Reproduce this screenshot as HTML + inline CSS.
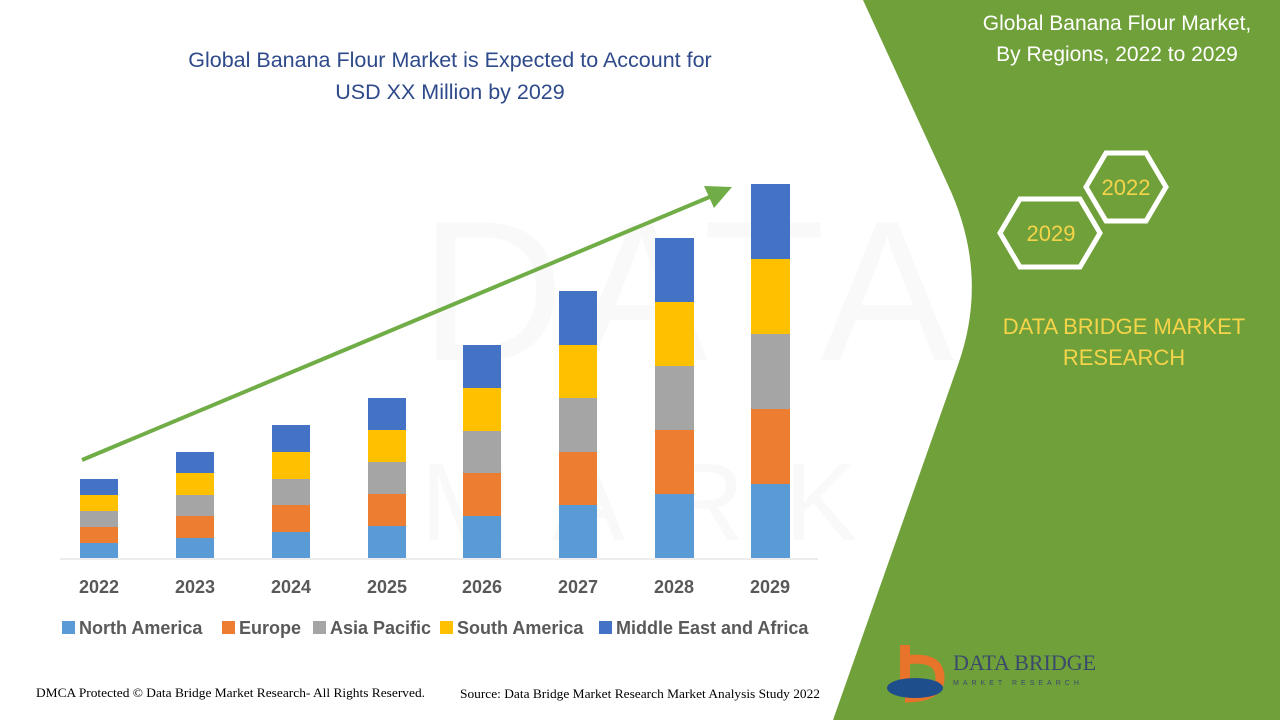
<!DOCTYPE html>
<html><head><meta charset="utf-8"><style>
html,body{margin:0;padding:0;background:#fff;}
svg{display:block;}
</style></head><body>
<svg width="1280" height="720" viewBox="0 0 1280 720" xmlns="http://www.w3.org/2000/svg" font-family="Liberation Sans, sans-serif">
<rect width="1280" height="720" fill="#fff"/>
<g opacity="0.04" fill="#888">
<text x="420" y="360" font-size="200" letter-spacing="10">DATA</text>
<text x="420" y="540" font-size="110" letter-spacing="40">MARK</text>
</g>
<path d="M863,0 L948,185 Q990,275 958,365 L833,720 L1280,720 L1280,0 Z" fill="#70a03a"/>
<text x="1117" y="30" font-size="21" fill="#fff" text-anchor="middle">Global Banana Flour Market,</text>
<text x="1117" y="61" font-size="21" fill="#fff" text-anchor="middle">By Regions, 2022 to 2029</text>
<polygon points="1086,187 1106,153 1146,153 1166,187 1146,221 1106,221" fill="none" stroke="#fff" stroke-width="5"/>
<polygon points="1000,233 1020,199 1080,199 1100,233 1080,267 1020,267" fill="none" stroke="#fff" stroke-width="5"/>
<text x="1126" y="195" font-size="22" fill="#f5d44a" text-anchor="middle">2022</text>
<text x="1051" y="241" font-size="22" fill="#f5d44a" text-anchor="middle">2029</text>
<text x="1124" y="334" font-size="22" fill="#f5d44a" text-anchor="middle">DATA BRIDGE MARKET</text>
<text x="1124" y="365" font-size="22" fill="#f5d44a" text-anchor="middle">RESEARCH</text>
<path d="M900,645 v40 h10 v-40z" fill="#e8732a"/>
<path d="M905,660 q35,-5 35,18 q0,20 -35,20" fill="none" stroke="#e8732a" stroke-width="9"/>
<ellipse cx="915" cy="688" rx="28" ry="10" fill="#1f4e8c"/>
<text x="953" y="670" font-size="22" fill="#3b4a6b" font-family="Liberation Serif, serif">DATA BRIDGE</text>
<text x="953" y="685" font-size="7" fill="#3b4a6b" letter-spacing="4">MARKET RESEARCH</text>
<text x="450" y="67" font-size="21.5" fill="#2e4a8a" text-anchor="middle">Global Banana Flour Market is Expected to Account for</text>
<text x="450" y="99" font-size="21.5" fill="#2e4a8a" text-anchor="middle">USD XX Million by 2029</text>
<line x1="60" y1="559" x2="818" y2="559" stroke="#d9d9d9" stroke-width="1"/>
<g>
<rect x="80" y="543" width="38" height="15" fill="#5b9bd5"/><rect x="80" y="527" width="38" height="16" fill="#ed7d31"/><rect x="80" y="511" width="38" height="16" fill="#a5a5a5"/><rect x="80" y="495" width="38" height="16" fill="#ffc000"/><rect x="80" y="479" width="38" height="16" fill="#4472c4"/>
<rect x="176" y="538" width="38" height="20" fill="#5b9bd5"/><rect x="176" y="516" width="38" height="22" fill="#ed7d31"/><rect x="176" y="495" width="38" height="21" fill="#a5a5a5"/><rect x="176" y="473" width="38" height="22" fill="#ffc000"/><rect x="176" y="452" width="38" height="21" fill="#4472c4"/>
<rect x="272" y="532" width="38" height="26" fill="#5b9bd5"/><rect x="272" y="505" width="38" height="27" fill="#ed7d31"/><rect x="272" y="479" width="38" height="26" fill="#a5a5a5"/><rect x="272" y="452" width="38" height="27" fill="#ffc000"/><rect x="272" y="425" width="38" height="27" fill="#4472c4"/>
<rect x="368" y="526" width="38" height="32" fill="#5b9bd5"/><rect x="368" y="494" width="38" height="32" fill="#ed7d31"/><rect x="368" y="462" width="38" height="32" fill="#a5a5a5"/><rect x="368" y="430" width="38" height="32" fill="#ffc000"/><rect x="368" y="398" width="38" height="32" fill="#4472c4"/>
<rect x="463" y="516" width="38" height="42" fill="#5b9bd5"/><rect x="463" y="473" width="38" height="43" fill="#ed7d31"/><rect x="463" y="431" width="38" height="42" fill="#a5a5a5"/><rect x="463" y="388" width="38" height="43" fill="#ffc000"/><rect x="463" y="345" width="38" height="43" fill="#4472c4"/>
<rect x="559" y="505" width="38" height="53" fill="#5b9bd5"/><rect x="559" y="452" width="38" height="53" fill="#ed7d31"/><rect x="559" y="398" width="38" height="54" fill="#a5a5a5"/><rect x="559" y="345" width="38" height="53" fill="#ffc000"/><rect x="559" y="291" width="38" height="54" fill="#4472c4"/>
<rect x="655" y="494" width="39" height="64" fill="#5b9bd5"/><rect x="655" y="430" width="39" height="64" fill="#ed7d31"/><rect x="655" y="366" width="39" height="64" fill="#a5a5a5"/><rect x="655" y="302" width="39" height="64" fill="#ffc000"/><rect x="655" y="238" width="39" height="64" fill="#4472c4"/>
<rect x="751" y="484" width="39" height="74" fill="#5b9bd5"/><rect x="751" y="409" width="39" height="75" fill="#ed7d31"/><rect x="751" y="334" width="39" height="75" fill="#a5a5a5"/><rect x="751" y="259" width="39" height="75" fill="#ffc000"/><rect x="751" y="184" width="39" height="75" fill="#4472c4"/>
</g>
<line x1="82" y1="460" x2="712" y2="196" stroke="#70ad47" stroke-width="4"/>
<polygon points="732,187 704,186 714,208" fill="#70ad47"/>
<g font-size="18" font-weight="bold" fill="#595959" text-anchor="middle">
<text x="99" y="593">2022</text><text x="195" y="593">2023</text><text x="291" y="593">2024</text><text x="387" y="593">2025</text><text x="482" y="593">2026</text><text x="578" y="593">2027</text><text x="674" y="593">2028</text><text x="770" y="593">2029</text>
</g>
<g font-size="18" font-weight="bold" fill="#595959">
<rect x="62" y="621" width="13" height="13" fill="#5b9bd5"/><text x="79" y="634">North America</text>
<rect x="222" y="621" width="13" height="13" fill="#ed7d31"/><text x="239" y="634">Europe</text>
<rect x="313" y="621" width="13" height="13" fill="#a5a5a5"/><text x="330" y="634">Asia Pacific</text>
<rect x="440" y="621" width="13" height="13" fill="#ffc000"/><text x="457" y="634">South America</text>
<rect x="599" y="621" width="13" height="13" fill="#4472c4"/><text x="616" y="634">Middle East and Africa</text>
</g>
<g font-family="Liberation Serif, serif" font-size="13" fill="#000">
<text x="36" y="697" textLength="389" lengthAdjust="spacingAndGlyphs">DMCA Protected © Data Bridge Market Research- All Rights Reserved.</text>
<text x="460" y="698" textLength="360" lengthAdjust="spacingAndGlyphs">Source: Data Bridge Market Research Market Analysis Study 2022</text>
</g>
</svg>
</body></html>
